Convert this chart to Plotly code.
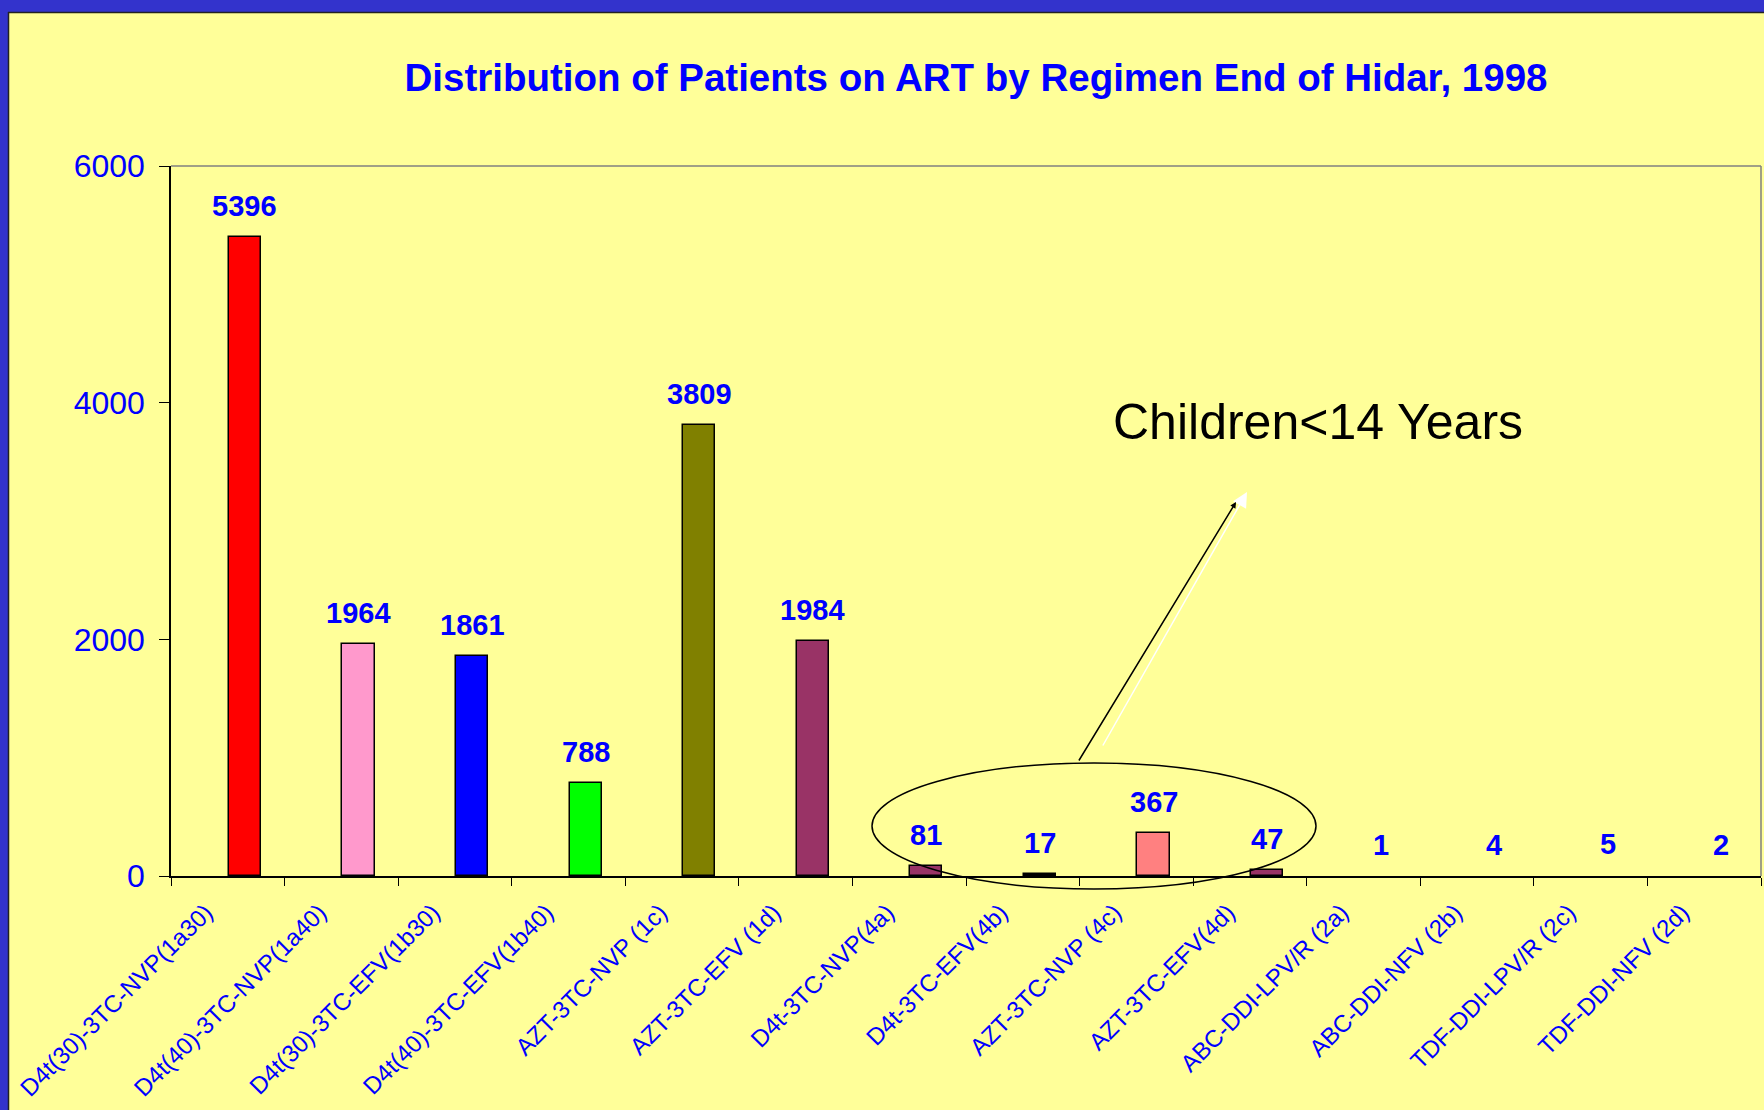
import plotly.graph_objects as go

categories = ["D4t(30)-3TC-NVP(1a30)", "D4t(40)-3TC-NVP(1a40)", "D4t(30)-3TC-EFV(1b30)",
              "D4t(40)-3TC-EFV(1b40)", "AZT-3TC-NVP (1c)", "AZT-3TC-EFV (1d)",
              "D4t-3TC-NVP(4a)", "D4t-3TC-EFV(4b)", "AZT-3TC-NVP (4c)", "AZT-3TC-EFV(4d)",
              "ABC-DDI-LPV/R (2a)", "ABC-DDI-NFV (2b)", "TDF-DDI-LPV/R (2c)", "TDF-DDI-NFV (2d)"]
patients = [5396, 1964, 1861, 788, 3809, 1984, 81, 17, 367, 47, 1, 4, 5, 2]
bar_colors = ["#FF0000", "#FF99CC", "#0000FF", "#00FF00", "#808000", "#993366",
              "#993366", "#000000", "#FF8080", "#993366", "rgba(0,0,0,0)", "rgba(0,0,0,0)",
              "rgba(0,0,0,0)", "rgba(0,0,0,0)"]
bar_outline_widths = [1.5, 1.5, 1.5, 1.5, 1.5, 1.5, 1.5, 1.5, 1.5, 1.5, 0, 0, 0, 0]
y_ticks = [0, 2000, 4000, 6000]

W, H = 1764, 1110
ML, MR, MT, MB = 171, 3, 166, 234
PW, PH = W - ML - MR, H - MT - MB

def px_x(px):
    return (px - ML) / PW

def px_y(py):
    return (H - MB - py) / PH

FONT = "Liberation Sans, Arial, sans-serif"
BLUE = "#0000FF"
BAR_W = 0.282

fig = go.Figure()
fig.add_trace(go.Bar(
    x=categories, y=patients,
    marker=dict(color=bar_colors, line=dict(color="black", width=bar_outline_widths)),
    width=BAR_W, offset=0.01, showlegend=False,
))

annotations = []
for i, v in enumerate(patients):
    annotations.append(dict(
        x=i + 0.01 + BAR_W / 2, y=v, xref="x", yref="y", text=f"<b>{v}</b>",
        showarrow=False, yshift=31, yanchor="middle",
        font=dict(family=FONT, size=29, color=BLUE)))

# Callout
annotations.append(dict(
    x=px_x(1247), y=px_y(492), xref="paper", yref="paper",
    ax=1102 - 1247, ay=747 - 492, axref="pixel", ayref="pixel",
    showarrow=True, arrowcolor="white", arrowwidth=1.5, arrowhead=2, arrowsize=2,
    text=""))
annotations.append(dict(
    x=px_x(1236), y=px_y(502), xref="paper", yref="paper",
    ax=1078 - 1236, ay=762 - 502, axref="pixel", ayref="pixel",
    showarrow=True, arrowcolor="black", arrowwidth=1.5, arrowhead=2, arrowsize=0.8,
    text=""))
annotations.append(dict(
    x=px_x(1111), y=px_y(422), xref="paper", yref="paper",
    text="Children&lt;14 Years", showarrow=False, xanchor="left", yanchor="middle",
    font=dict(family=FONT, size=50, color="black")))

shapes = [
    # ellipse
    dict(type="circle", xref="paper", yref="paper",
         x0=px_x(872), x1=px_x(1316), y0=px_y(889), y1=px_y(763),
         line=dict(color="black", width=1.5), fillcolor="rgba(0,0,0,0)"),
    # plot frame top & right
    dict(type="line", xref="paper", yref="paper", x0=0, x1=1, y0=1, y1=1,
         line=dict(color="#808080", width=1.5)),
    dict(type="line", xref="paper", yref="paper", x0=1, x1=1, y0=0, y1=1,
         line=dict(color="#808080", width=1.5)),
    # blue slide border top & left
    dict(type="rect", xref="paper", yref="paper", x0=px_x(0), x1=px_x(W), y0=px_y(0), y1=px_y(12),
         fillcolor="#3333CC", line=dict(width=0), layer="above"),
    dict(type="rect", xref="paper", yref="paper", x0=px_x(0), x1=px_x(8), y0=px_y(0), y1=px_y(H),
         fillcolor="#3333CC", line=dict(width=0), layer="above"),
    dict(type="line", xref="paper", yref="paper", x0=px_x(8), x1=px_x(W), y0=px_y(12.5), y1=px_y(12.5),
         line=dict(color="#222222", width=1.5)),
    dict(type="line", xref="paper", yref="paper", x0=px_x(8.5), x1=px_x(8.5), y0=px_y(12), y1=px_y(H),
         line=dict(color="#222222", width=1.5)),
]

fig.update_layout(
    width=W, height=H,
    margin=dict(l=ML, r=MR, t=MT, b=MB, pad=0),
    paper_bgcolor="#FFFF99", plot_bgcolor="#FFFF99",
    title=dict(text="<b>Distribution of Patients on ART by Regimen End of Hidar, 1998</b>",
               xref="container", yref="container", x=976 / W, y=1 - 78 / H,
               xanchor="center", yanchor="middle",
               font=dict(family=FONT, size=38.5, color=BLUE)),
    xaxis=dict(type="category", range=[-0.5, len(categories) - 0.5],
               showline=True, linecolor="black", linewidth=1.5,
               ticks="outside", tickson="boundaries", ticklen=8, tickcolor="black",
               tickangle=-45, tickfont=dict(family=FONT, size=24, color=BLUE),
               ticklabelshift=-22, ticklabelstandoff=11,
               showgrid=False, zeroline=False),
    yaxis=dict(range=[0, 6000], tickvals=y_ticks, ticktext=[str(t) for t in y_ticks],
               showline=True, linecolor="black", linewidth=1.5,
               ticks="outside", ticklen=10, tickcolor="black",
               tickfont=dict(family=FONT, size=32, color=BLUE),
               ticklabelstandoff=8,
               showgrid=False, zeroline=False),
    annotations=annotations, shapes=shapes,
    bargap=0,
)

fig.write_html("out.html", config={"displayModeBar": False},
               post_script="document.body.style.margin='0';document.body.style.overflow='hidden';")
